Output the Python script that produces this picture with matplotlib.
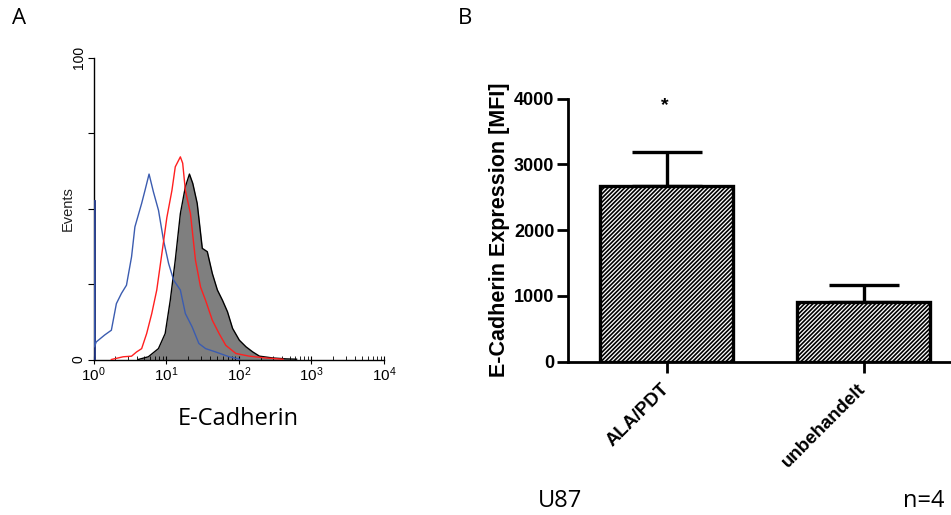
import matplotlib.pyplot as plt
import numpy as np
from matplotlib.ticker import FixedLocator, FuncFormatter, LogLocator, NullFormatter

# ---- panel A: flow cytometry histograms (log10 of fluorescence, % of max events)
blue_logx = [0.003, 0.003, 0.014, 0.037, 0.153, 0.246, 0.315, 0.385, 0.454, 0.524,
             0.570, 0.663, 0.709, 0.765, 0.825, 0.895, 0.964, 1.034, 1.103, 1.196,
             1.265, 1.358, 1.451, 1.544, 1.682, 1.868, 2.007]
blue_val = [0.0, 52.6, 4.2, 5.8, 8.1, 9.7, 18.5, 21.9, 24.6, 34.0,
            43.9, 51.7, 56.0, 61.4, 55.5, 49.4, 39.5, 31.8, 26.3, 23.0,
            15.2, 10.8, 5.3, 3.6, 2.5, 0.9, 0.1]

red_logx = [0.246, 0.408, 0.524, 0.593, 0.663, 0.732, 0.802, 0.871, 0.941, 1.01,
            1.08, 1.126, 1.196, 1.228, 1.265, 1.335, 1.404, 1.474, 1.543, 1.636,
            1.729, 1.821, 1.96, 2.146, 2.378, 2.609]
red_val = [0.0, 0.9, 1.1, 2.5, 3.6, 8.6, 15.2, 23.0, 35.0, 47.0,
           56.0, 63.8, 67.1, 65.0, 56.0, 48.3, 32.9, 24.0, 19.6, 13.0,
           8.6, 4.7, 2.0, 1.1, 0.5, 0.1]

gray_logx = [0.616, 0.755, 0.894, 0.987, 1.057, 1.126, 1.196, 1.265, 1.321, 1.367,
             1.428, 1.498, 1.567, 1.636, 1.706, 1.776, 1.845, 1.915, 2.008, 2.1,
             2.193, 2.286, 2.471, 2.657, 2.796]
gray_val = [0.0, 0.9, 3.6, 8.6, 19.6, 32.9, 48.3, 57.2, 61.4, 58.3,
            51.7, 36.8, 35.7, 28.5, 23.0, 19.6, 15.8, 10.3, 6.4, 4.2,
            2.5, 1.1, 0.5, 0.2, 0.1]

# ---- panel B: mean fluorescence intensity
groups = ["ALA/PDT", "unbehandelt"]
mfi = [2672, 912]
mfi_err = [522, 250]

W, H = 951, 515
plt.rcParams["hatch.linewidth"] = 1.2
plt.rcParams["mathtext.fontset"] = "custom"
plt.rcParams["mathtext.rm"] = "Liberation Sans"
fig = plt.figure(figsize=(W / 100, H / 100), dpi=100)


def box(x0, y0, x1, y1):
    # pixel box (top-left origin) -> figure fraction rect
    return [x0 / W, 1 - y1 / H, (x1 - x0) / W, (y1 - y0) / H]


# ================= panel A =================
axA = fig.add_axes(box(93.5, 57.5, 384, 359.5))
bx = 10 ** np.array(blue_logx)
rx = 10 ** np.array(red_logx)
gx = 10 ** np.array(gray_logx)
axA.fill_between(gx, gray_val, color="#7f7f7f", lw=0, zorder=1)
axA.plot(gx, gray_val, color="black", lw=1.0, zorder=2)
axA.plot(bx[:2], blue_val[:2], color="#1c2f7a", lw=2.0, zorder=3)
axA.plot(bx[1:], blue_val[1:], color="#3b5cb0", lw=1.0, zorder=3)
axA.plot(rx, red_val, color="#ff1f1f", lw=1.0, zorder=3)

axA.set_xscale("log")
axA.set_xlim(1, 1e4)
axA.set_ylim(0, 100)
axA.spines[["top", "right"]].set_visible(False)
axA.spines[["left", "bottom"]].set_linewidth(1.0)
axA.xaxis.set_major_locator(FixedLocator([1, 10, 100, 1000, 10000]))
axA.xaxis.set_major_formatter(
    FuncFormatter(lambda v, p: r"$\mathregular{10^{%d}}$" % round(np.log10(v))))
axA.xaxis.set_minor_locator(LogLocator(base=10, subs=np.arange(2, 10)))
axA.xaxis.set_minor_formatter(NullFormatter())
axA.tick_params(axis="x", which="major", direction="inout", length=6, labelsize=11, pad=1)
axA.tick_params(axis="x", which="minor", direction="in", length=3, width=0.6)
axA.yaxis.set_major_locator(FixedLocator([0, 25, 50, 75, 100]))
axA.yaxis.set_major_formatter(FuncFormatter(lambda v, p: "%d" % v if v in (0, 100) else ""))
axA.tick_params(axis="y", direction="out", length=4, labelsize=10, pad=1.5)
for lab in axA.get_xticklabels() + axA.get_yticklabels():
    lab.set_family("Liberation Sans")
for lab in axA.get_yticklabels():
    lab.set_rotation(90)
    lab.set_va("center")
axA.set_ylabel("Events", fontsize=10.5, color="#222222", family="Liberation Sans")
axA.yaxis.set_label_coords(-0.066, 0.5)

fig.text(238 / W, 1 - 419 / H, "E-Cadherin", ha="center", va="center",
         fontsize=17, family="Open Sans")
fig.text(12 / W, 1 - 19 / H, "A", ha="left", va="center", fontsize=16, family="Open Sans")
fig.text(458 / W, 1 - 19 / H, "B", ha="left", va="center", fontsize=16, family="Open Sans")

# ================= panel B =================
axB = fig.add_axes(box(568.3, 98.7, 962, 361.7))
pos = np.arange(len(groups))
axB.bar(pos, mfi, width=0.675, color="white", edgecolor="black",
        linewidth=2.4, hatch="////////", zorder=2)
axB.errorbar(pos, mfi, yerr=[[0, 0], mfi_err], fmt="none", ecolor="black",
             elinewidth=2.4, capsize=25, capthick=2.4, zorder=1)
axB.text(pos[0] - 0.01, mfi[0] + mfi_err[0] + 700, "*", ha="center", va="center",
         fontsize=14, fontweight="bold", family="Liberation Sans")

axB.set_xlim(-0.5, 1.5)
axB.set_ylim(0, 4000)
axB.spines[["top", "right"]].set_visible(False)
axB.spines[["left", "bottom"]].set_linewidth(2.0)
axB.set_yticks([0, 1000, 2000, 3000, 4000])
axB.set_xticks(pos)
axB.set_xticklabels(groups, rotation=45, ha="right", va="center",
                    rotation_mode="anchor", fontweight="bold", fontsize=13.5,
                    family="Liberation Sans")
axB.tick_params(axis="both", direction="out", length=8, width=2.0)
axB.tick_params(axis="x", pad=10)
axB.tick_params(axis="y", pad=2)
for lab in axB.get_yticklabels():
    lab.set_fontweight("bold")
    lab.set_fontsize(13)
    lab.set_family("Liberation Sans")
axB.set_ylabel("E-Cadherin Expression [MFI]", fontsize=15.5, fontweight="bold",
               family="Liberation Sans", labelpad=3)

fig.text(538 / W, 1 - 501 / H, "U87", ha="left", va="center", fontsize=17, family="Open Sans")
fig.text(903 / W, 1 - 501 / H, "n=4", ha="left", va="center", fontsize=17, family="Open Sans")

fig.savefig("out.png", dpi=100)
